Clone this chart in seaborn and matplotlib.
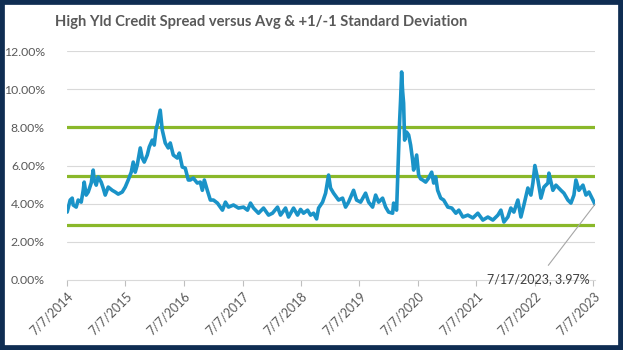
import matplotlib
matplotlib.use("Agg")
import matplotlib.pyplot as plt
from matplotlib.patches import Rectangle
import seaborn as sns
import pandas as pd

# ---- data (dates as decimal years) ----
years = [
    2014.515, 2014.566, 2014.601, 2014.618, 2014.669, 2014.703, 2014.755, 2014.789, 2014.806,
    2014.840, 2014.875, 2014.926, 2014.960, 2014.977, 2015.012, 2015.046, 2015.097, 2015.131,
    2015.166, 2015.217, 2015.286, 2015.337, 2015.388, 2015.457, 2015.508, 2015.559, 2015.611,
    2015.645, 2015.679, 2015.714, 2015.765, 2015.799, 2015.833, 2015.885, 2015.919, 2015.970,
    2016.005, 2016.039, 2016.056, 2016.107, 2016.142, 2016.193, 2016.244, 2016.279, 2016.330,
    2016.399, 2016.433, 2016.484, 2016.535, 2016.587, 2016.621, 2016.672, 2016.741, 2016.792,
    2016.827, 2016.861, 2016.912, 2016.964, 2017.015, 2017.083, 2017.169, 2017.220, 2017.272,
    2017.357, 2017.443, 2017.529, 2017.597, 2017.648, 2017.700, 2017.785, 2017.871, 2017.957,
    2018.025, 2018.111, 2018.162, 2018.248, 2018.299, 2018.385, 2018.453, 2018.505, 2018.556,
    2018.625, 2018.676, 2018.727, 2018.779, 2018.813, 2018.881, 2018.933, 2018.984, 2019.018,
    2019.070, 2019.155, 2019.224, 2019.275, 2019.326, 2019.412, 2019.463, 2019.532, 2019.617,
    2019.669, 2019.737, 2019.789, 2019.840, 2019.908, 2019.960, 2020.011, 2020.080, 2020.097,
    2020.148, 2020.165, 2020.199, 2020.216, 2020.234, 2020.251, 2020.268, 2020.285, 2020.319,
    2020.354, 2020.388, 2020.422, 2020.439, 2020.474, 2020.491, 2020.525, 2020.559, 2020.594,
    2020.645, 2020.696, 2020.748, 2020.782, 2020.816, 2020.850, 2020.902, 2020.953, 2021.022,
    2021.090, 2021.159, 2021.210, 2021.279, 2021.364, 2021.450, 2021.535, 2021.621, 2021.707,
    2021.792, 2021.878, 2021.929, 2021.981, 2022.049, 2022.100, 2022.152, 2022.220, 2022.272,
    2022.323, 2022.391, 2022.443, 2022.477, 2022.511, 2022.563, 2022.614, 2022.666, 2022.734,
    2022.751, 2022.819, 2022.871, 2022.956, 2023.008, 2023.076, 2023.128, 2023.179, 2023.213,
    2023.265, 2023.333, 2023.385, 2023.436, 2023.504, 2023.540,
]
spread = [
    3.56, 4.19, 4.29, 3.93, 3.82, 4.19, 4.08, 4.70, 5.13,
    4.45, 4.61, 5.08, 5.76, 5.24, 4.97, 5.40, 5.13, 4.82,
    4.45, 4.87, 4.70, 4.61, 4.50, 4.61, 4.87, 5.24, 5.65,
    6.18, 5.65, 6.03, 6.92, 6.39, 6.18, 6.55, 6.97, 7.33,
    7.07, 7.96, 8.12, 8.90, 7.86, 7.18, 6.92, 7.18, 6.55,
    6.39, 6.65, 5.92, 5.86, 5.24, 5.24, 5.34, 5.08, 5.13,
    4.70, 5.24, 4.70, 4.19, 4.19, 4.03, 3.66, 4.08, 3.82,
    3.93, 3.77, 3.82, 3.66, 4.03, 3.77, 3.50, 3.77, 3.40,
    3.50, 3.82, 3.40, 3.77, 3.30, 3.77, 3.40, 3.70, 3.50,
    3.66, 3.40, 3.50, 3.20, 3.77, 4.08, 4.55, 5.50, 4.82,
    4.55, 4.19, 4.29, 3.82, 4.08, 4.70, 4.19, 4.08, 4.55,
    4.08, 3.82, 4.45, 4.08, 4.29, 3.82, 3.56, 3.50, 4.03,
    3.66, 5.24, 8.27, 9.40, 10.90, 9.90, 9.27, 7.33, 7.75,
    7.60, 7.07, 6.28, 5.76, 6.28, 6.55, 5.50, 5.30, 5.24,
    5.13, 5.34, 5.65, 5.08, 5.40, 4.70, 4.29, 4.19, 3.82,
    3.77, 3.50, 3.66, 3.30, 3.40, 3.25, 3.50, 3.14, 3.30,
    3.14, 3.40, 3.66, 3.04, 3.30, 3.77, 3.56, 4.19, 3.30,
    3.93, 4.82, 4.45, 5.08, 6.00, 5.24, 4.29, 4.87, 5.08,
    5.60, 4.70, 4.97, 4.70, 4.55, 4.19, 4.03, 4.45, 5.24,
    4.70, 4.97, 4.45, 4.61, 4.19, 3.97,
]
avg = 5.45
std_dev = 2.57
stat_levels = [avg + std_dev, avg, avg - std_dev]
tick_years = list(range(2014, 2024))
y_ticks = [0, 2, 4, 6, 8, 10, 12]
title = "High Yld Credit Spread versus Avg & +1/-1 Standard Deviation"
last_label = "7/17/2023, 3.97%"


def to_ts(y):
    yr = int(y)
    return pd.Timestamp(yr, 1, 1) + pd.Timedelta(days=(y - yr) * 365.25)


df = pd.DataFrame({"date": [to_ts(y) for y in years], "spread": spread})

# ---- styling ----
sns.set_theme(style="white")
plt.rcParams["font.family"] = ["Lato", "DejaVu Sans"]

fig = plt.figure(figsize=(6.23, 3.5), dpi=100)
fig.patch.set_facecolor("white")
ax = fig.add_axes([67 / 623, 70 / 350, 528 / 623, 229 / 350])

gray_text = "#595959"
for y in y_ticks[1:]:
    ax.axhline(y, color="#D9D9D9", lw=0.8, zorder=0)

for lvl in stat_levels:
    ax.axhline(lvl, color="#8AB82A", lw=2.3, zorder=2)

sns.lineplot(data=df, x="date", y="spread", ax=ax, color="#1A93C8", lw=2.6, zorder=3)

ax.set_ylim(0, 12)
ax.set_xlim(pd.Timestamp("2014-07-07"), pd.Timestamp("2023-07-17"))
ax.set_yticks(y_ticks)
ax.set_yticklabels([f"{v:.2f}%" for v in y_ticks], color=gray_text, fontsize=8.8)
ticks = [pd.Timestamp(f"{y}-07-07") for y in tick_years]
ax.set_xticks(ticks)
ax.set_xticklabels([f"{t.month}/{t.day}/{t.year}" for t in ticks], rotation=45,
                   ha="right", va="top", rotation_mode="anchor", color=gray_text, fontsize=9)
ax.tick_params(axis="y", length=0, pad=16)
ax.tick_params(axis="x", length=4, width=0.8, color="#BFBFBF", direction="out", pad=3, bottom=True)
ax.set_xlabel("")
ax.set_ylabel("")
for s in ["top", "right", "left"]:
    ax.spines[s].set_visible(False)
ax.spines["bottom"].set_color("#D9D9D9")
ax.spines["bottom"].set_linewidth(0.8)

ax.annotate(last_label, xy=(df["date"].iloc[-1], spread[-1]),
            xytext=(pd.Timestamp("2022-07-25"), 0.05), textcoords="data",
            ha="center", va="center", fontsize=9, color="#404040",
            arrowprops=dict(arrowstyle="-", color="#A6A6A6", lw=0.8, shrinkA=4, shrinkB=0),
            annotation_clip=False, zorder=5)

fig.text(261 / 623, 1 - 22 / 350, title, ha="center", va="center",
         fontsize=10.6, fontweight="bold", color=gray_text)

fig.patches.append(Rectangle((0, 0), 1, 1, transform=fig.transFigure, fill=False,
                             edgecolor="#0F2D52", linewidth=7, zorder=10))

fig.savefig("out.png", dpi=100, facecolor="white")
